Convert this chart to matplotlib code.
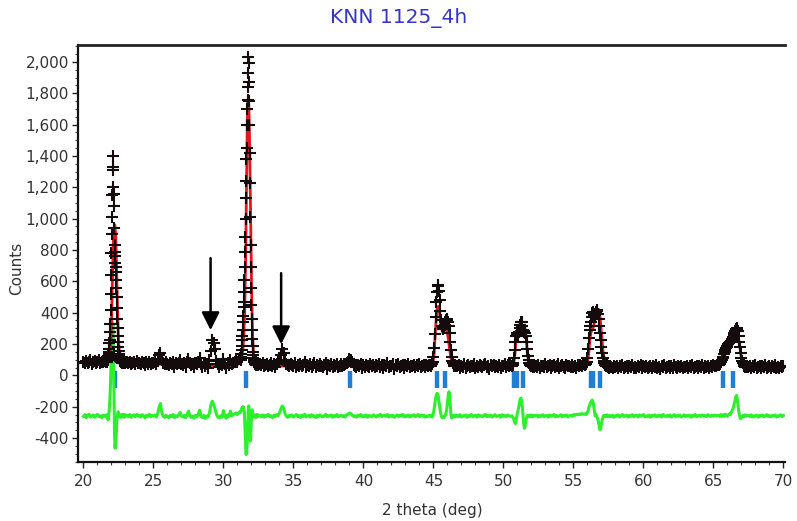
import numpy as np
import matplotlib
matplotlib.use("Agg")
import matplotlib.pyplot as plt
from matplotlib.ticker import MultipleLocator, FuncFormatter

# ---------------- text ----------------
title = "KNN 1125_4h"
x_label = "2 theta (deg)"
y_label = "Counts"
x_ticks = [20, 25, 30, 35, 40, 45, 50, 55, 60, 65, 70]
y_ticks = [-400, -200, 0, 200, 400, 600, 800, 1000, 1200, 1400, 1600, 1800, 2000]

# ---------------- observed counts (segment start, step) ----------------
obs_20 = [88, 79, 92, 81, 86, 97, 75, 84, 90, 78, 83, 95, 80, 87, 82, 91, 86]
obs_22 = [86, 92, 84, 97, 93, 104, 99, 112, 121, 134, 152, 171, 205, 226, 276, 330, 420, 520,
          640, 780, 905, 1010, 1150, 1205, 1330, 1400, 1310, 1160, 1080, 940, 830, 790, 760,
          720, 690, 660, 610, 560, 500, 430, 360, 300, 250, 210, 180, 155, 138, 126, 112, 104,
          98, 94, 88, 92, 84, 89, 81, 86, 93, 79, 84, 90, 77, 85, 81, 88, 76, 83, 79, 86]
obs_23 = [82, 76, 88, 71, 79, 85, 74, 90, 77, 81,
          72, 86, 78, 69, 83, 75, 88, 73, 80, 76,
          84, 71, 92, 128, 142, 96, 77, 70, 82, 74,
          68, 79, 72, 85, 56, 77, 71, 80, 95, 74,
          69, 78, 54, 82, 104, 76, 67, 73, 52, 79,
          70, 84, 108, 72, 55, 77, 61, 74, 48, 96,
          158, 224, 205, 168, 92, 70, 53, 75, 66, 104,
          72, 50, 78, 69, 98, 73, 80, 88, 95, 84, 102, 110]
obs_31 = [96, 104, 118, 135, 160, 190, 225, 250, 290, 340, 380, 436, 470, 530, 610, 690, 790,
          880, 1000, 1130, 1240, 1380, 1450, 1600, 1700, 1760, 1840, 1930, 2030, 1990, 1870,
          1750, 1600, 1420, 1230, 1010, 830, 690, 560, 450, 360, 290, 230, 185, 150, 128, 110,
          98, 92, 84, 90, 78, 86, 73, 81, 69, 77, 84, 66, 75, 70, 79, 63, 74, 68]
obs_32 = [71, 64, 78, 59, 68, 74, 57, 66, 81, 62,
          70, 55, 73, 88, 96, 132, 168, 145, 98, 72,
          63, 58, 75, 66, 60, 79, 54, 68, 62, 74,
          57, 65, 82, 53, 67, 60, 71, 56, 64, 78,
          52, 66, 59, 73, 61, 55, 69, 77, 40, 63,
          58, 72, 54, 66, 60, 75, 52, 62, 70, 57,
          64, 71, 78, 86, 104, 98, 82, 68, 61, 55,
          67, 58, 72, 50, 63, 56, 69, 61, 53, 74,
          58, 65, 51, 68, 60, 72, 55, 63, 49, 67,
          59, 76, 54, 62, 57, 70, 42, 64, 60, 73,
          55, 61, 68, 50, 66, 58, 71, 53, 62, 57,
          69, 51, 64, 59, 72, 54, 61, 66, 52, 63,
          58, 67]
obs_45 = [60, 66, 72, 85, 118, 175, 262, 370, 465, 530, 568, 575, 540, 478, 410, 352, 318, 300,
          296, 305, 322, 340, 352, 362, 356, 340, 318, 270, 215, 160, 118, 92, 76, 68, 61, 66, 58]
obs_47 = [58, 64, 50, 61, 55, 70, 48, 59, 66, 53,
          62, 57, 71, 49, 60, 54, 67, 58, 51, 63,
          75, 56, 61, 38, 64, 57, 69, 52, 60, 55,
          66, 50, 62, 58, 71, 54, 63, 59, 67]
obs_51 = [58, 64, 78, 110, 160, 215, 252, 268, 262, 258, 275, 300, 322, 338, 342, 318, 290,
          276, 282, 270, 248, 210, 165, 125, 96, 78, 68, 61, 57, 63, 52, 60, 55]
obs_52 = [60, 53, 67, 49, 58, 62, 54, 70, 51, 59,
          64, 47, 57, 66, 53, 61, 72, 50, 58, 63,
          55, 48, 65, 57, 61, 52, 68, 56, 60, 49,
          63, 58, 66, 61, 70, 68]
obs_56 = [72, 84, 112, 170, 236, 290, 318, 340, 372, 395, 402, 390, 378, 388, 405, 418, 410,
          392, 360, 318, 270, 225, 180, 142, 112, 92, 78, 68, 62, 57, 64, 53, 59, 50, 61]
obs_58 = [56, 48, 62, 51, 57, 45, 60, 53, 67, 49,
          55, 61, 46, 58, 52, 64, 50, 56, 44, 59,
          53, 66, 48, 57, 51, 62, 45, 55, 60, 47,
          58, 52, 65, 49, 54, 43, 59, 56, 63, 48,
          52, 60, 46, 57, 50, 64, 53, 47, 58, 55,
          61, 44, 56, 51, 62, 48, 57, 53, 66, 49,
          55, 60, 46, 58, 52, 63, 50, 57, 54, 61,
          49, 59, 55, 64, 58, 62, 67]
obs_66 = [68, 72, 78, 86, 95, 108, 120, 134, 150, 162, 172, 180, 190, 198, 205, 210, 214, 220,
          226, 232, 244, 258, 272, 286, 296, 302, 298, 280, 252, 215, 178, 140, 110, 90, 76,
          66, 60, 55, 62, 51, 58]
obs_68 = [54, 62, 47, 58, 51, 65, 49, 56, 60, 45,
          57, 52, 63, 48, 55, 61, 46, 58, 53, 64,
          50, 56, 44, 59, 52, 57]

obs_starts = [20.0, 21.62, 23.1, 31.22, 32.6, 44.8, 46.7, 50.6, 52.3, 55.9, 57.7, 65.4, 67.5]
obs_steps = [0.1, 0.02, 0.1, 0.02, 0.1, 0.05, 0.1, 0.05, 0.1, 0.05, 0.1, 0.05, 0.1]
obs_values = [obs_20, obs_22, obs_23, obs_31, obs_32, obs_45, obs_47, obs_51, obs_52,
              obs_56, obs_58, obs_66, obs_68]

# ---------------- difference curve (same segments) ----------------
diff_20 = [-262, -251, -270, -255, -248, -266, -259, -253, -268, -257, -249, -263, -258, -270,
           -254, -261, -256]
diff_22 = [-258, -252, -266, -255, -262, -270, -278, -284, -272, -258, -240, -222, -196, -170,
           -130, -80, -20, 40, 110, 180, 240, 280, 320, 300, 335, 330, 180, -20, -160, -290,
           -380, -430, -465, -440, -460, -420, -370, -330, -300, -280, -262, -250, -238, -232,
           -240, -250, -258, -264, -256, -262, -255, -268, -259, -252, -263, -257, -266, -254,
           -261, -258, -250, -264, -256, -262, -253, -267, -258, -251, -263, -257]
diff_23 = [-255, -263, -250, -268, -258, -252, -265, -249, -261, -256,
           -266, -251, -259, -270, -254, -262, -248, -265, -257, -260,
           -253, -266, -245, -205, -180, -240, -262, -268, -255, -262,
           -270, -256, -263, -250, -271, -258, -264, -254, -236, -260,
           -266, -255, -272, -252, -228, -258, -268, -260, -274, -255,
           -265, -250, -222, -262, -270, -256, -275, -260, -266, -240,
           -190, -165, -185, -215, -250, -266, -272, -258, -268, -225,
           -262, -274, -252, -262, -228, -258, -250, -246, -240, -250, -238, -232]
diff_31 = [-236, -230, -222, -218, -212, -208, -205, -210, -206, -200, -212, -205, -215, -228,
           -250, -290, -340, -390, -440, -480, -505, -490, -500, -470, -430, -380, -320, -260,
           -210, -195, -205, -240, -300, -360, -400, -420, -410, -370, -320, -270, -235, -220,
           -228, -245, -258, -266, -262, -256, -264, -259, -252, -263, -257, -268, -255, -261,
           -253, -266, -258, -262, -250, -264, -257, -261, -255]
diff_32 = [-258, -264, -252, -267, -256, -261, -249, -263, -258, -270,
           -255, -262, -250, -258, -240, -215, -195, -210, -245, -262,
           -268, -256, -261, -253, -266, -258, -250, -263, -257, -269,
           -254, -262, -248, -265, -259, -256, -267, -251, -262, -258,
           -270, -255, -263, -252, -260, -266, -257, -249, -264, -258,
           -261, -253, -268, -256, -262, -250, -265, -259, -255, -263,
           -257, -266, -252, -248, -240, -244, -255, -262, -258, -267,
           -254, -261, -250, -265, -258, -262, -253, -268, -256, -260,
           -264, -252, -259, -266, -255, -261, -249, -263, -258, -255,
           -262, -250, -266, -257, -261, -254, -268, -259, -252, -263,
           -256, -261, -249, -265, -258, -262, -253, -266, -257, -260,
           -252, -264, -258, -250, -263, -256, -261, -254, -267, -259,
           -262, -256]
diff_45 = [-262, -255, -266, -258, -240, -215, -180, -150, -128, -115, -120, -140, -170, -205,
           -235, -255, -268, -272, -265, -270, -262, -255, -240, -215, -180, -130, -105, -120,
           -190, -250, -272, -265, -258, -266, -260, -254, -263]
diff_47 = [-256, -263, -251, -266, -258, -260, -253, -268, -257, -262,
           -250, -264, -259, -255, -267, -252, -261, -258, -264, -256,
           -249, -263, -257, -262, -254, -266, -258, -251, -263, -259,
           -255, -268, -252, -261, -257, -264, -253, -260, -262]
diff_51 = [-258, -264, -270, -285, -300, -308, -290, -262, -238, -222, -200, -172, -150, -146,
           -160, -205, -262, -310, -338, -325, -290, -270, -258, -262, -255, -266, -260, -253,
           -262, -257, -265, -259, -255]
diff_52 = [-260, -254, -266, -257, -262, -251, -264, -258, -255, -267,
           -253, -261, -258, -250, -265, -256, -262, -259, -252, -264,
           -257, -260, -253, -266, -258, -255, -261, -250, -256, -248,
           -252, -246, -250, -244, -248, -246]
diff_56 = [-250, -245, -235, -225, -205, -190, -180, -170, -162, -158, -170, -200, -232, -258,
           -250, -262, -270, -285, -305, -330, -348, -335, -310, -285, -268, -258, -262, -255,
           -264, -258, -252, -261, -256, -263, -258]
diff_58 = [-262, -255, -268, -257, -261, -253, -266, -258, -250, -263,
           -259, -254, -267, -256, -262, -251, -264, -258, -255, -266,
           -253, -261, -257, -250, -265, -259, -262, -254, -268, -256,
           -260, -252, -264, -257, -261, -255, -266, -250, -259, -263,
           -256, -262, -253, -267, -258, -251, -264, -257, -261, -254,
           -266, -259, -252, -263, -257, -260, -254, -268, -256, -261,
           -250, -264, -258, -255, -262, -253, -260, -257, -263, -251,
           -258, -262, -255, -260, -254, -259, -256]
diff_66 = [-255, -262, -258, -250, -262, -255, -258, -250, -262, -255, -250, -255, -262, -254,
           -250, -246, -250, -240, -232, -222, -212, -195, -175, -155, -138, -128, -150, -190,
           -225, -250, -272, -276, -268, -262, -256, -264, -258, -252, -261, -255, -259]
diff_68 = [-257, -263, -252, -266, -258, -261, -254, -267, -256, -260,
           -253, -264, -258, -251, -262, -257, -265, -255, -261, -253,
           -266, -258, -260, -252, -263, -257]

diff_values = [diff_20, diff_22, diff_23, diff_31, diff_32, diff_45, diff_47, diff_51, diff_52,
               diff_56, diff_58, diff_66, diff_68]

# ---------------- calculated profile ----------------
calc_x = [20.0, 20.5, 21.0, 21.4, 21.6, 21.7, 21.8, 21.9, 21.96, 22.0, 22.06, 22.12, 22.18,
          22.24, 22.30, 22.36, 22.42, 22.48, 22.54, 22.6, 22.7, 22.8, 23.0, 24.0, 25.0, 26.0,
          27.0, 28.0, 29.0, 30.0, 30.6, 31.0, 31.1, 31.2, 31.3, 31.4, 31.46, 31.52, 31.58,
          31.62, 31.66, 31.70, 31.74, 31.78, 31.82, 31.86, 31.90, 31.94, 31.98, 32.02, 32.06,
          32.10, 32.14, 32.2, 32.3, 32.4, 32.6, 33.0, 35.0, 37.0, 38.8, 39.0, 39.1, 39.2, 39.4,
          42.0, 44.0, 44.8, 44.95, 45.05, 45.15, 45.25, 45.35, 45.45, 45.55, 45.65, 45.75,
          45.85, 45.95, 46.05, 46.15, 46.25, 46.35, 46.5, 46.7, 50.0, 50.6, 50.7, 50.8, 50.9,
          51.0, 51.1, 51.2, 51.3, 51.4, 51.5, 51.6, 51.7, 51.8, 51.9, 52.1, 55.0, 55.8, 55.9,
          56.0, 56.1, 56.2, 56.3, 56.4, 56.5, 56.6, 56.7, 56.8, 56.9, 57.0, 57.1, 57.2, 57.3,
          57.5, 60.0, 65.0, 65.4, 65.6, 65.8, 66.0, 66.2, 66.4, 66.5, 66.6, 66.7, 66.8, 66.9,
          67.0, 67.1, 67.3, 67.5, 70.0]
calc_y = [84, 83, 82, 82, 83, 86, 96, 130, 210, 330, 560, 810, 940,
          960, 900, 720, 470, 280, 170, 120, 95, 86, 80, 76, 73, 70,
          67, 65, 63, 62, 63, 68, 74, 84, 110, 180, 260, 420, 720,
          1020, 1360, 1610, 1750, 1770, 1700, 1530, 1270, 980, 720, 500, 330,
          220, 150, 105, 80, 70, 65, 62, 58, 56, 55, 66, 70, 62, 55,
          54, 53, 54, 68, 140, 300, 420, 440, 390, 310, 275, 285,
          300, 290, 240, 170, 110, 72, 58, 54, 52, 53, 62, 120, 230,
          285, 275, 270, 285, 305, 320, 260, 150, 85, 60, 52, 50, 53, 58,
          80, 150, 250, 290, 300, 340, 390, 420, 420, 370, 270, 165, 95, 65,
          52, 50, 49, 55, 80, 130, 175, 205, 215, 225, 245, 255, 230, 170,
          105, 72, 53, 50, 48]

# ---------------- Bragg reflection positions ----------------
bragg_pos = [22.25, 31.6, 39.04, 45.23, 45.82, 50.77, 50.99, 51.41, 56.23, 56.41, 56.89,
             65.66, 66.41]

# ---------------- arrows marking impurity peaks ----------------
arrow_x = [29.08, 34.12]
arrow_top = [748, 652]
arrow_tip = [288, 198]


def build(values_list):
    xs, ys = [], []
    for start, step, vals in zip(obs_starts, obs_steps, values_list):
        xs.append(np.round(start + step * np.arange(len(vals)), 3))
        ys.append(np.asarray(vals, dtype=float))
    return np.concatenate(xs), np.concatenate(ys)


obs_x, obs_y = build(obs_values)
diff_x, diff_y = build(diff_values)

plt.rcParams['font.family'] = ['DejaVu Sans']
fig = plt.figure(figsize=(7.97, 5.21), dpi=100)
ax = fig.add_axes([78 / 797, 1 - 462 / 521, (785 - 78) / 797, (462 - 45) / 521])

ax.vlines(bragg_pos, -80, 30, color='#1f7fd8', lw=3.2, zorder=2)
ax.plot(diff_x, diff_y, color='#2cf02c', lw=2.2, zorder=3)
ax.plot(calc_x, calc_y, color='#e4161c', lw=2.0, zorder=4)
ax.plot(obs_x, obs_y, ls='none', marker='+', ms=8, mew=1.5, color='#140c0c', zorder=5)

for xa, yt, yp in zip(arrow_x, arrow_top, arrow_tip):
    ax.annotate('', xy=(xa, yp), xytext=(xa, yt),
                arrowprops=dict(arrowstyle='-|>,head_length=0.4,head_width=0.2',
                                mutation_scale=27, lw=1.8, color='black',
                                shrinkA=0, shrinkB=0), zorder=6)

ax.set_xlim(19.61, 70.11)
ax.set_ylim(-553, 2108)
ax.set_xticks(x_ticks)
ax.set_yticks(y_ticks)
ax.xaxis.set_minor_locator(MultipleLocator(1))
ax.yaxis.set_minor_locator(MultipleLocator(50))
ax.yaxis.set_major_formatter(FuncFormatter(lambda v, p: f"{int(round(v)):,}"))
ax.tick_params(axis='both', which='major', direction='out', length=4.5, width=1.0,
               labelsize=11, colors='#222222', labelcolor='#333333')
ax.tick_params(axis='x', which='major', pad=4)
ax.tick_params(axis='y', which='major', pad=2)
ax.tick_params(axis='both', which='minor', direction='out', length=2.5, width=0.8,
               colors='#444444')

ax.spines['right'].set_visible(False)
for s in ['left', 'bottom']:
    ax.spines[s].set_linewidth(1.6)
    ax.spines[s].set_color('#111111')
ax.spines['top'].set_linewidth(2.0)
ax.spines['top'].set_color('#222222')

fig.text(0.5, 1 - 18 / 521, title, ha='center', va='center', fontsize=14.5, color='#3535c8')
fig.text(432 / 797, 1 - 510 / 521, x_label, ha='center', va='center', fontsize=11,
         color='#333333')
fig.text(17 / 797, 1 - 268 / 521, y_label, ha='center', va='center', rotation=90,
         fontsize=11, color='#333333')

fig.savefig('out.png', dpi=100)
